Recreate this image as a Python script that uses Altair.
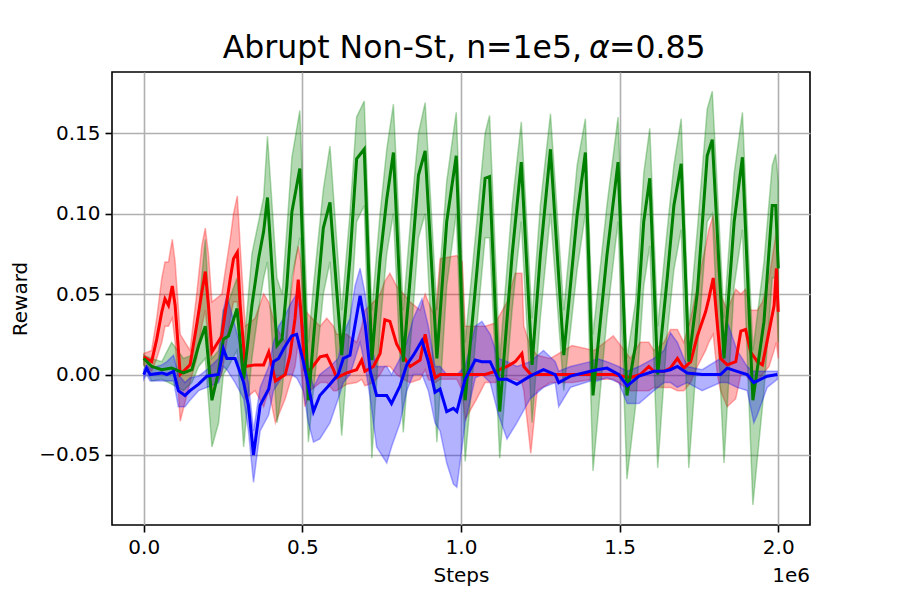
import altair as alt
import pandas as pd

# ---------------- data (x in units of 1e6 steps) ----------------
green_x = [0.000, 0.025, 0.057, 0.088, 0.125, 0.152, 0.173, 0.194, 0.215, 0.236, 0.251, 0.267, 0.294, 0.315,
           0.341, 0.362, 0.378, 0.390, 0.420, 0.436, 0.451, 0.467, 0.492, 0.519, 0.535, 0.566, 0.587, 0.624,
           0.650, 0.671, 0.695, 0.719, 0.745, 0.766, 0.787, 0.818, 0.845, 0.866, 0.887, 0.924, 0.955, 0.985,
           1.013, 1.050, 1.076, 1.090, 1.122, 1.161, 1.190, 1.224, 1.250, 1.282, 1.324, 1.366, 1.392, 1.416,
           1.460, 1.495, 1.523, 1.550, 1.576, 1.595, 1.620, 1.650, 1.671, 1.694, 1.718, 1.745, 1.776, 1.792,
           1.829, 1.861, 1.887, 1.920, 1.955, 1.981, 1.992, 2.000]
green_y = [0.010, 0.005, 0.003, 0.004, 0.001, 0.003, 0.018, 0.030, -0.016, 0.002, 0.022, 0.024, 0.041, -0.003,
           0.043, 0.072, 0.089, 0.110, 0.018, 0.022, 0.055, 0.101, 0.128, -0.016, 0.022, 0.091, 0.107, 0.012,
           0.072, 0.134, 0.140, 0.009, 0.072, 0.109, 0.138, 0.008, 0.072, 0.124, 0.139, 0.010, 0.095, 0.136,
           -0.016, 0.064, 0.122, 0.123, -0.023, 0.074, 0.132, 0.006, 0.074, 0.140, 0.012, 0.099, 0.138, -0.013,
           0.074, 0.132, -0.013, 0.018, 0.095, 0.122, 0.000, 0.060, 0.105, 0.131, 0.008, 0.051, 0.136, 0.146,
           0.010, 0.095, 0.135, -0.016, 0.033, 0.105, 0.105, 0.066]
green_lo = [0.006, -0.004, -0.003, -0.006, -0.010, -0.005, 0.005, 0.010, -0.045, -0.030, 0.000, 0.005, 0.015, -0.045,
            0.010, 0.040, 0.060, 0.070, -0.030, -0.010, 0.020, 0.060, 0.085, -0.042, -0.010, 0.050, 0.070, -0.038,
            0.030, 0.095, 0.105, -0.052, 0.030, 0.075, 0.100, -0.036, 0.030, 0.085, 0.100, -0.042, 0.055, 0.100,
            -0.054, 0.030, 0.085, 0.085, -0.052, 0.040, 0.095, -0.030, 0.035, 0.100, -0.010, 0.065, 0.100, -0.060,
            0.035, 0.095, -0.065, -0.020, 0.055, 0.080, -0.058, 0.025, 0.065, 0.090, -0.058, 0.015, 0.095, 0.100,
            -0.055, 0.055, 0.090, -0.081, -0.010, 0.060, 0.060, 0.020]
green_hi = [0.012, 0.010, 0.008, 0.020, 0.010, 0.012, 0.040, 0.084, 0.010, 0.015, 0.040, 0.045, 0.060, 0.015,
            0.075, 0.095, 0.110, 0.148, 0.060, 0.050, 0.090, 0.135, 0.164, 0.020, 0.055, 0.115, 0.142, 0.040,
            0.100, 0.160, 0.170, 0.040, 0.100, 0.140, 0.168, 0.040, 0.105, 0.150, 0.169, 0.040, 0.120, 0.163,
            0.020, 0.095, 0.150, 0.161, 0.010, 0.105, 0.157, 0.035, 0.105, 0.162, 0.040, 0.130, 0.159, 0.025,
            0.105, 0.160, 0.010, 0.045, 0.125, 0.153, 0.030, 0.090, 0.130, 0.159, 0.030, 0.090, 0.165, 0.176,
            0.035, 0.125, 0.163, 0.015, 0.070, 0.130, 0.137, 0.120]

red_x = [0.000, 0.025, 0.041, 0.057, 0.067, 0.078, 0.090, 0.099, 0.115, 0.146,
         0.167, 0.183, 0.194, 0.204, 0.215, 0.246, 0.273, 0.283, 0.295, 0.304,
         0.320, 0.351, 0.378, 0.394, 0.415, 0.446, 0.461, 0.477, 0.487, 0.495,
         0.508, 0.525, 0.556, 0.577, 0.598, 0.608, 0.640, 0.671, 0.687, 0.697,
         0.724, 0.745, 0.760, 0.776, 0.797, 0.819, 0.840, 0.871, 0.887, 0.897,
         0.919, 0.934, 0.987, 1.004, 1.013, 1.050, 1.076, 1.108, 1.145, 1.171,
         1.192, 1.198, 1.220, 1.240, 1.282, 1.350, 1.420, 1.480, 1.534, 1.565,
         1.592, 1.608, 1.640, 1.660, 1.682, 1.702, 1.724, 1.745, 1.771, 1.781,
         1.795, 1.808, 1.818, 1.839, 1.866, 1.882, 1.897, 1.913, 1.934, 1.950,
         1.971, 1.987, 1.994, 2.000]
red_y = [0.011, 0.008, 0.022, 0.039, 0.047, 0.043, 0.055, 0.043, 0.000, 0.006,
         0.031, 0.051, 0.064, 0.043, 0.014, 0.024, 0.060, 0.072, 0.076, 0.043,
         0.005, 0.006, 0.006, 0.014, -0.004, 0.000, 0.012, 0.035, 0.059, 0.040,
         0.003, 0.003, 0.011, 0.012, 0.003, -0.002, 0.001, 0.003, 0.009, 0.002,
         0.005, 0.013, 0.034, 0.033, 0.019, 0.011, 0.005, 0.009, 0.025, 0.015,
         -0.002, 0.000, 0.000, 0.000, 0.000, 0.000, 0.000, 0.002, 0.005, 0.008,
         0.013, 0.005, 0.000, 0.000, 0.000, 0.000, 0.000, 0.000, -0.002, 0.000,
         0.005, 0.002, 0.002, 0.004, 0.010, 0.004, 0.008, 0.024, 0.039, 0.047,
         0.060, 0.031, 0.010, 0.006, 0.008, 0.027, 0.028, 0.014, 0.008, 0.006,
         0.027, 0.043, 0.066, 0.039]
red_lo = [0.006, 0.002, 0.010, 0.020, 0.030, 0.030, 0.035, 0.020, -0.029, -0.005,
          0.010, 0.030, 0.040, 0.020, -0.010, 0.000, 0.035, 0.045, 0.045, 0.010,
          -0.015, -0.010, -0.020, -0.010, -0.030, -0.015, -0.005, 0.005, 0.020, 0.005,
          -0.020, -0.010, -0.005, -0.005, -0.010, -0.010, -0.006, -0.005, -0.003, -0.007,
          -0.005, 0.000, 0.005, 0.005, 0.000, -0.003, -0.005, -0.003, 0.003, -0.003,
          -0.005, -0.003, -0.003, -0.010, -0.028, -0.015, -0.005, -0.005, -0.003, -0.003,
          -0.005, -0.010, -0.049, -0.010, -0.005, -0.005, -0.003, -0.003, -0.010, -0.010,
          -0.010, -0.008, -0.008, -0.008, -0.010, -0.010, -0.005, 0.005, 0.015, 0.020,
          0.025, 0.000, -0.010, -0.020, -0.015, 0.000, 0.000, -0.005, -0.005, 0.000,
          0.005, 0.015, 0.020, 0.010]
red_hi = [0.013, 0.015, 0.035, 0.060, 0.070, 0.070, 0.084, 0.070, 0.025, 0.015,
          0.050, 0.080, 0.091, 0.075, 0.045, 0.050, 0.085, 0.100, 0.111, 0.080,
          0.030, 0.035, 0.050, 0.045, 0.030, 0.020, 0.045, 0.070, 0.080, 0.070,
          0.040, 0.036, 0.030, 0.035, 0.030, 0.025, 0.025, 0.020, 0.030, 0.040,
          0.045, 0.050, 0.058, 0.063, 0.055, 0.050, 0.045, 0.040, 0.050, 0.045,
          0.035, 0.072, 0.074, 0.070, 0.030, 0.030, 0.030, 0.032, 0.045, 0.063,
          0.063, 0.030, 0.017, 0.012, 0.010, 0.018, 0.015, 0.024, 0.010, 0.020,
          0.020, 0.015, 0.020, 0.028, 0.028, 0.020, 0.035, 0.055, 0.080, 0.090,
          0.099, 0.070, 0.050, 0.040, 0.053, 0.050, 0.053, 0.040, 0.040, 0.045,
          0.060, 0.080, 0.089, 0.080]

blue_x = [0.000, 0.009, 0.020, 0.057, 0.073, 0.094, 0.109, 0.130, 0.146, 0.173, 0.199, 0.236, 0.251, 0.262,
          0.288, 0.315, 0.330, 0.346, 0.367, 0.394, 0.409, 0.425, 0.441, 0.466, 0.482, 0.503, 0.519, 0.535,
          0.555, 0.587, 0.613, 0.629, 0.650, 0.666, 0.682, 0.698, 0.714, 0.734, 0.766, 0.781, 0.808, 0.829,
          0.850, 0.877, 0.897, 0.918, 0.934, 0.955, 0.976, 0.987, 1.013, 1.045, 1.066, 1.092, 1.118, 1.145,
          1.176, 1.218, 1.260, 1.297, 1.308, 1.345, 1.408, 1.429, 1.460, 1.497, 1.524, 1.561, 1.608, 1.640,
          1.660, 1.682, 1.713, 1.760, 1.818, 1.839, 1.870, 1.902, 1.923, 1.934, 1.965, 1.997]
blue_y = [0.000, 0.004, 0.000, 0.001, 0.000, 0.002, -0.010, -0.013, -0.010, -0.006, -0.001, 0.000, 0.016, 0.010,
          0.010, -0.005, -0.019, -0.050, -0.019, -0.009, 0.008, 0.010, 0.016, 0.024, 0.025, 0.008, -0.007, -0.023,
          -0.013, -0.006, 0.000, 0.010, 0.012, 0.031, 0.049, 0.031, 0.002, -0.013, -0.013, -0.018, -0.007, 0.006,
          0.012, 0.021, 0.008, -0.011, -0.009, -0.023, -0.021, -0.023, -0.003, 0.009, 0.008, 0.008, -0.003, -0.003,
          -0.006, -0.001, 0.003, 0.000, -0.005, -0.001, 0.002, 0.003, 0.004, 0.000, -0.007, -0.001, 0.002, 0.002,
          0.003, 0.005, 0.001, 0.000, 0.000, 0.004, 0.002, 0.000, -0.005, -0.004, -0.001, 0.000]
blue_lo = [-0.003, 0.000, -0.004, -0.004, -0.004, -0.004, -0.020, -0.020, -0.016, -0.010, -0.008, -0.005, 0.005, 0.003,
           -0.005, -0.015, -0.035, -0.067, -0.035, -0.025, -0.010, -0.005, 0.000, 0.000, -0.002, -0.010, -0.030, -0.042,
           -0.040, -0.030, -0.015, -0.005, 0.000, 0.010, 0.020, 0.005, -0.015, -0.045, -0.055, -0.045, -0.030, -0.010,
           0.000, 0.000, -0.010, -0.030, -0.035, -0.055, -0.068, -0.070, -0.030, -0.002, 0.000, -0.005, -0.025, -0.040,
           -0.030, -0.015, -0.008, -0.005, -0.020, -0.008, -0.004, -0.004, -0.002, -0.005, -0.018, -0.018, -0.010, -0.005,
           -0.005, -0.008, -0.005, -0.010, -0.005, -0.005, -0.008, -0.010, -0.030, -0.025, -0.008, -0.003]
blue_hi = [0.003, 0.006, 0.004, 0.006, 0.008, 0.012, 0.000, -0.005, -0.002, -0.001, 0.003, 0.010, 0.040, 0.049,
           0.030, 0.010, -0.005, -0.035, -0.008, 0.005, 0.020, 0.030, 0.035, 0.045, 0.050, 0.030, 0.005, -0.008,
           0.000, 0.005, 0.010, 0.025, 0.035, 0.055, 0.066, 0.050, 0.020, 0.005, 0.005, 0.000, 0.010, 0.020,
           0.035, 0.047, 0.030, 0.005, 0.005, 0.000, 0.000, 0.000, 0.005, 0.030, 0.033, 0.025, 0.010, 0.008,
           0.005, 0.008, 0.015, 0.008, 0.002, 0.005, 0.008, 0.010, 0.008, 0.005, 0.002, 0.005, 0.010, 0.015,
           0.026, 0.020, 0.005, 0.003, 0.010, 0.033, 0.015, 0.005, 0.002, 0.002, 0.002, 0.002]

x_ticks = [0.0, 0.5, 1.0, 1.5, 2.0]
y_ticks = [-0.05, 0.0, 0.05, 0.10, 0.15]
title_left = "Abrupt Non-St, n=1e5,"
title_alpha = "α"
title_right = "=0.85"
x_title = "Steps"
y_title = "Reward"
x_offset_text = "1e6"

FONT = "DejaVu Sans"
W, H = 698, 453

series = [
    ("red", "#ff0000", red_x, red_y, red_lo, red_hi),
    ("green", "#008000", green_x, green_y, green_lo, green_hi),
    ("blue", "#0000ff", blue_x, blue_y, blue_lo, blue_hi),
]

xscale = alt.Scale(domain=[-0.1, 2.1], nice=False, zero=False)
yscale = alt.Scale(domain=[-0.0935, 0.188], nice=False, zero=False)
xaxis = alt.Axis(values=x_ticks, format=".1f", title=x_title, grid=True)
yaxis = alt.Axis(values=y_ticks, format=".2f", title=y_title, grid=True)

bands = []
lines = []
for name, col, xs, ys, los, his in series:
    df = pd.DataFrame({"x": xs, "y": ys, "lo": los, "hi": his})
    base = alt.Chart(df)
    bands.append(
        base.mark_area(color=col, fillOpacity=0.3, stroke=col, strokeOpacity=0.3, strokeWidth=1.5)
        .encode(x=alt.X("x:Q", scale=xscale, axis=xaxis),
                y=alt.Y("lo:Q", scale=yscale, axis=yaxis),
                y2="hi:Q")
    )
    lines.append(
        base.mark_line(color=col, strokeWidth=3)
        .encode(x=alt.X("x:Q", scale=xscale, axis=xaxis),
                y=alt.Y("y:Q", scale=yscale, axis=yaxis))
    )

def label(text, x, y, size, align="center", style="normal"):
    return alt.Chart(pd.DataFrame({"t": [text]})).mark_text(
        font=FONT, fontSize=size, align=align, baseline="alphabetic", color="black", fontStyle=style
    ).encode(x=alt.value(x), y=alt.value(y), text="t:N")

texts = [
    label(title_left, 470, -14, 31.5, "right"),
    label(title_alpha, 477, -14, 31.5, "left", "italic"),
    label(title_right, 497, -14, 31.5, "left"),
    label(x_offset_text, W, 510, 20, "right"),
]

chart = alt.layer(*bands, *lines, *texts).properties(
    width=W, height=H,
    autosize=alt.AutoSizeParams(type="none"),
    padding={"left": 104, "top": 64, "right": 82, "bottom": 67},
).configure_view(stroke="black", strokeWidth=1.6).configure_axis(
    labelFont=FONT, labelFontSize=20, labelColor="black",
    titleFont=FONT, titleFontSize=20, titleFontWeight="normal", titleColor="black",
    tickColor="black", tickSize=7, tickWidth=1.6,
    gridColor="#b0b0b0", gridWidth=1.6, domain=False, labelPadding=5,
).configure_axisX(titlePadding=8).configure_axisY(titlePadding=8)

chart.save("out.html", embed_options={"renderer": "svg", "actions": False})
